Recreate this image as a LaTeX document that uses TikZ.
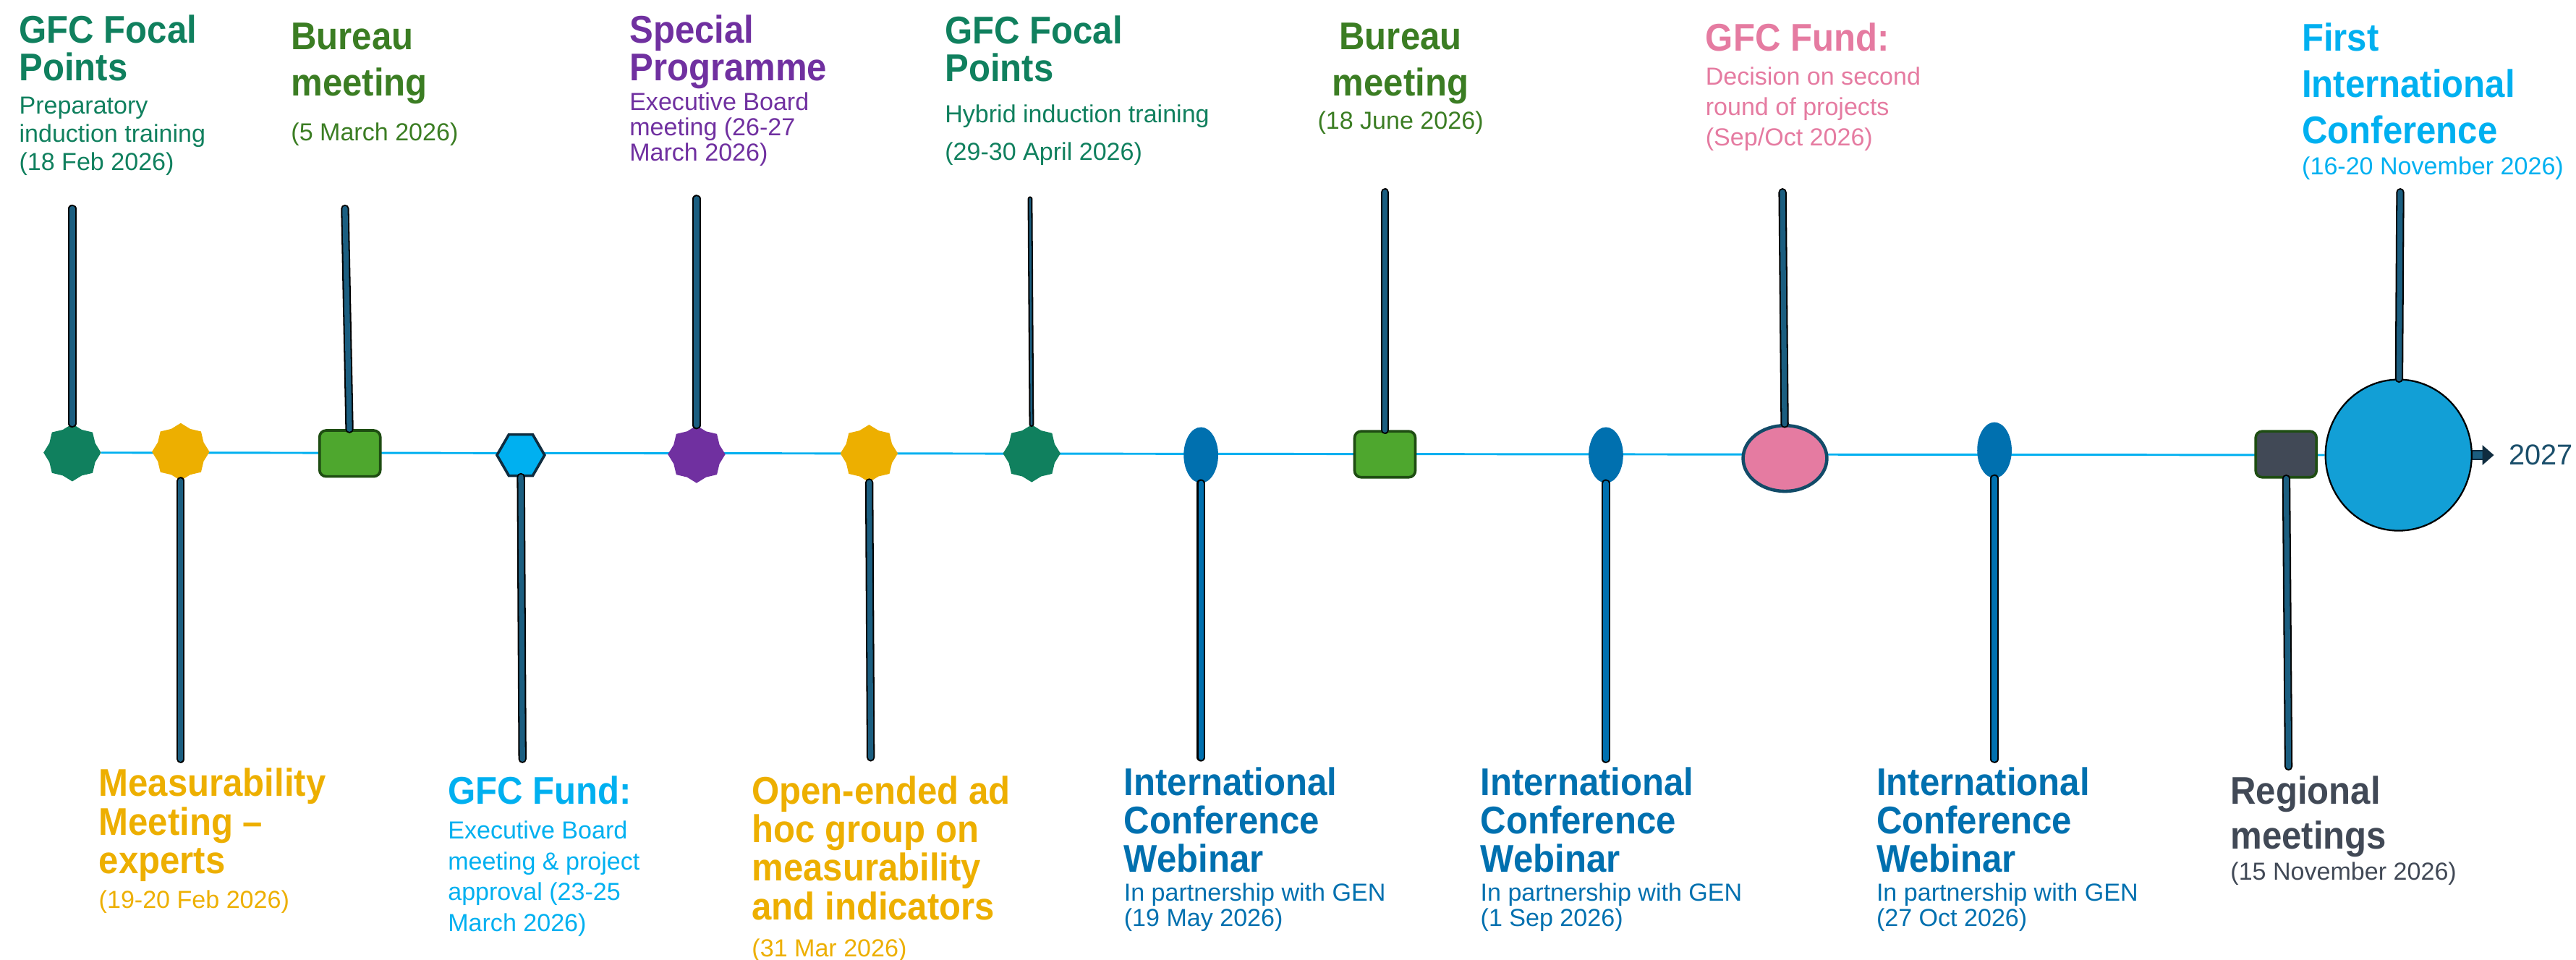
\documentclass[tikz,border=0pt]{standalone}
\usepackage{fontspec}
\setmainfont{Liberation Sans}[BoldFeatures={FakeStretch=0.92}]
\usetikzlibrary{shapes.geometric,positioning,backgrounds,arrows.meta}

\definecolor{focalgreen}{HTML}{10805E}
\definecolor{bureaugreen}{HTML}{3B7D23}
\definecolor{boxgreen}{HTML}{4EA72E}
\definecolor{boxline}{HTML}{1E4D12}
\definecolor{gold}{HTML}{EDAF00}
\definecolor{purple}{HTML}{7030A0}
\definecolor{fundcyan}{HTML}{00B0F0}
\definecolor{hexline}{HTML}{0F2C3F}
\definecolor{webblue}{HTML}{0070AF}
\definecolor{fundpink}{HTML}{E57BA1}
\definecolor{pinkline}{HTML}{124B68}
\definecolor{slate}{HTML}{414956}
\definecolor{bigblue}{HTML}{129FD6}
\definecolor{stickteal}{HTML}{1B5E80}
\definecolor{yeartext}{HTML}{1B4F6B}

\begin{document}
\begin{tikzpicture}[x=1pt,y=-1pt,
  head/.style={font=\fontsize{23.5}{#1}\selectfont\bfseries, align=left, inner sep=0pt, anchor=north west},
  head/.default=23.5,
  info/.style={font=\fontsize{15}{#1}\selectfont, align=left, inner sep=0pt},
  info/.default=18,
  evstar/.style={star, star points=8, star point ratio=1.16, minimum size=35pt, inner sep=0pt, fill=#1},
  evbox/.style={rectangle, rounded corners=4pt, minimum width=37pt, minimum height=28pt, line width=1.6pt, draw=boxline, fill=#1},
  evhex/.style={regular polygon, regular polygon sides=6, minimum size=29pt, inner sep=0pt, line width=1.6pt, draw=hexline, fill=fundcyan},
  evoval/.style={ellipse, minimum width=21pt, minimum height=34pt, inner sep=0pt, fill=webblue},
  stick/.style={draw=black, line width=0.9pt, double=#1, double distance=3.2pt, line cap=round},
  stick/.default=stickteal,
  timeline/.style={draw=fundcyan, line width=1.3pt}]
\useasboundingbox (0,0) rectangle (1568,584);

% markers on the time line
\node[evstar=focalgreen] (m1) at (44,275.5) {};
\node[evstar=gold] (m2) at (110,275) {};
\node[evbox=boxgreen] (m3) at (213,276) {};
\node[evhex] (m4) at (317,277) {};
\node[evstar=purple] (m5) at (424,276.5) {};
\node[evstar=gold] (m6) at (529,276) {};
\node[evstar=focalgreen] (m7) at (628,276) {};
\node[evoval] (m8) at (731,277) {};
\node[evbox=boxgreen] (m9) at (843,276.5) {};
\node[evoval] (m10) at (977.5,277) {};
\node[ellipse, minimum width=51pt, minimum height=40pt, inner sep=0pt, line width=2pt, draw=pinkline, fill=fundpink] (m11) at (1086.5,279) {};
\node[evoval] (m12) at (1214,274) {};
\node[evbox=slate] (m13) at (1391.5,276.5) {};
\node[ellipse, minimum width=89pt, minimum height=92pt, inner sep=0pt, line width=1pt, draw=black, fill=bigblue] (m14) at (1460,277) {};
\node[font=\fontsize{17.5}{20}\selectfont, text=yeartext, inner sep=0pt, anchor=west] (yr) at (1527,277) {2027};

\begin{scope}[on background layer]
\draw[timeline] (m1) -- (m14);
\end{scope}
\draw[draw=hexline, line width=1pt, double=stickteal, double distance=4.4pt, -{Triangle[length=7pt,width=12pt]}, shorten >=9pt] (m14) -- (yr);

% sticks
\coordinate (t1) at (44,127);
\coordinate (t2) at (110,462);
\coordinate (t3) at (210,127);
\coordinate (t4) at (318,462);
\coordinate (t5) at (424,121);
\coordinate (t6) at (530,461);
\coordinate (t7) at (627,121);
\coordinate (t8) at (731,461);
\coordinate (t9) at (843,117);
\coordinate (t10) at (977.5,462);
\coordinate (t11) at (1085,117);
\coordinate (t12) at (1214,462);
\coordinate (t13) at (1393,466.5);
\coordinate (t14) at (1461,117);

\draw[stick] (m1) -- (t1);
\draw[stick] (m2) -- (t2);
\draw[stick] (m3) -- (t3);
\draw[stick] (m4) -- (t4);
\draw[stick] (m5) -- (t5);
\draw[stick] (m6) -- (t6);
\draw[stick, double distance=1.2pt] (m7) -- (t7);
\draw[stick=webblue] (m8) -- (t8);
\draw[stick] (m9) -- (t9);
\draw[stick=webblue] (m10) -- (t10);
\draw[stick] (m11) -- (t11);
\draw[stick=webblue] (m12) -- (t12);
\draw[stick] (m13) -- (t13);
\draw[stick] (m14) -- (t14);

% labels above
\node[head=22.7, text=focalgreen] (h1) at (11.5,9) {GFC Focal\\Points};
\node[info=17.3, text=focalgreen, below right=9.3pt and 0pt of h1.south west] (d1) {Preparatory\\induction training\\(18 Feb 2026)};

\node[head=28, text=bureaugreen] (h3) at (177,14) {Bureau\\meeting};
\node[info, text=bureaugreen, below right=11pt and 0pt of h3.south west] (d3) {(5 March 2026)};

\node[head=22.7, text=purple] (h5) at (383,9) {Special\\Programme};
\node[info=15.5, text=purple, below right=2pt and 0pt of h5.south west] (d5) {Executive Board\\meeting (26-27\\March 2026)};

\node[head=23, text=focalgreen] (h7) at (575,9.5) {GFC Focal\\Points};
\node[info=23, text=focalgreen, below right=13.3pt and 0pt of h7.south west] (d7) {Hybrid induction training\\(29-30 April 2026)};

\node[head=28, text=bureaugreen, align=center, anchor=north] (h9) at (852.5,14) {Bureau\\meeting};
\node[info, text=bureaugreen, below=3.9pt of h9] (d9) {(18 June 2026)};

\node[head, text=fundpink] (h11) at (1038,14) {GFC Fund:};
\node[info=18.4, text=fundpink, below right=9.2pt and 0pt of h11.south west] (d11) {Decision on second\\round of projects\\(Sep/Oct 2026)};

\node[head=28, text=fundcyan] (h14) at (1401,14) {First\\International\\Conference};
\node[info, text=fundcyan, below right=7.4pt and 0pt of h14.south west] (d14) {(16-20 November 2026)};

% labels below
\node[head=23.5, text=gold] (h2) at (60,467.5) {Measurability\\Meeting –\\experts};
\node[info, text=gold, below right=5.1pt and 0pt of h2.south west] (d2) {(19-20 Feb 2026)};

\node[head, text=fundcyan] (h4) at (272.5,472) {GFC Fund:};
\node[info=18.7, text=fundcyan, below right=9.9pt and 0pt of h4.south west] (d4) {Executive Board\\meeting \& project\\approval (23-25\\March 2026)};

\node[head=23.5, text=gold] (h6) at (457.5,472) {Open-ended ad\\hoc group on\\measurability\\and indicators};
\node[info, text=gold, below right=11pt and 0pt of h6.south west] (d6) {(31 Mar 2026)};

\node[head=23.3, text=webblue] (h8) at (684,467) {International\\Conference\\Webinar};
\node[info=15.5, text=webblue, below right=6.2pt and 0pt of h8.south west] (d8) {In partnership with GEN\\(19 May 2026)};

\node[head=23.3, text=webblue] (h10) at (901,467) {International\\Conference\\Webinar};
\node[info=15.5, text=webblue, below right=6.2pt and 0pt of h10.south west] (d10) {In partnership with GEN\\(1 Sep 2026)};

\node[head=23.3, text=webblue] (h12) at (1142,467) {International\\Conference\\Webinar};
\node[info=15.5, text=webblue, below right=6.2pt and 0pt of h12.south west] (d12) {In partnership with GEN\\(27 Oct 2026)};

\node[head=27.6, text=slate] (h13) at (1357.5,472) {Regional\\meetings};
\node[info, text=slate, below right=2.5pt and 0pt of h13.south west] (d13) {(15 November 2026)};
\end{tikzpicture}
\end{document}
